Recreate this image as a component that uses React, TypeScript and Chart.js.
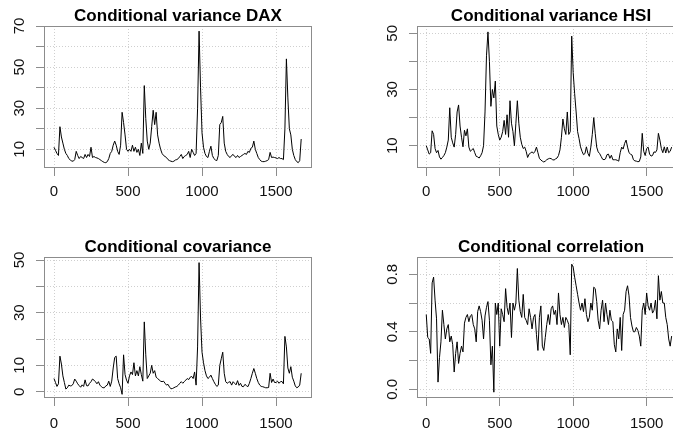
import React, { useEffect, useRef } from 'react';
import { Chart, registerables } from 'chart.js';

Chart.register(...registerables);

// time index step between stored observations
const STEP = 10;

const DAX_VAR = [
  11, 9.5, 8, 7, 21, 16, 13, 10, 8, 7,
  5.5, 4.8, 4.3, 4.2, 5, 9, 7, 5.5, 6.5, 6,
  5.5, 7.5, 6, 7.5, 6.5, 11, 6, 6.5, 6, 5.8,
  5.5, 5, 4.5, 4, 3.6, 3.5, 4, 5.5, 8, 9,
  12, 14, 12, 9, 7.5, 12, 28, 23, 17, 10,
  9, 10, 9, 12, 9, 11, 8.5, 10, 7, 13,
  8, 41, 25, 14, 10, 13, 21, 29, 22, 28,
  17, 13, 10, 8, 7, 6.5, 6, 5, 4.5, 4.2,
  4, 4.2, 4.8, 5, 5.5, 6.5, 7.5, 5.5, 6.5, 7,
  7.5, 9, 6, 10, 8.5, 7, 8, 30, 67.5, 40,
  18, 11, 8, 6.5, 6, 9, 11.5, 7, 5.5, 4.8,
  4.5, 7, 22, 23, 26, 13, 9, 7.5, 6.5, 6,
  7, 7.5, 6.5, 6, 7, 6, 6.5, 7, 7.5, 8,
  7.5, 9, 8.5, 10.5, 11, 14, 10, 8, 6, 5,
  4.2, 4, 4, 4.2, 4.5, 5, 8.5, 6, 6.2, 6,
  5.8, 5.5, 6, 5.5, 5.5, 5, 20, 54, 35, 20,
  17, 10, 7, 5, 4, 3.5, 4.5, 15,
];

const HSI_VAR = [
  10, 8.5, 7, 7.5, 15.3, 14, 9, 7.5, 8.3, 6,
  5.2, 5.8, 6.5, 7.5, 9.5, 12, 23.5, 13, 11, 9.5,
  14, 22, 24.5, 17, 13, 9.6, 15.5, 13.5, 16, 9.5,
  8, 8.5, 9, 7.5, 6.2, 6, 5.6, 6.4, 7.5, 10,
  22, 42, 50.5, 40, 24, 30, 27, 33, 17, 14,
  12, 13, 15, 19, 14, 21, 13, 26, 18, 15,
  10, 18, 26, 18, 13, 10.5, 9, 9.5, 8, 5.8,
  7, 7.4, 7.8, 7.3, 8, 9.5, 7.5, 5.5, 4.9, 4.5,
  4.2, 4.5, 5, 5.3, 5.5, 5.4, 5, 4.9, 5.3, 5.6,
  6.5, 8.5, 13, 19.5, 16, 14, 22, 14, 15, 49,
  36, 28.5, 22, 15, 12.5, 9.6, 8, 6.8, 7.2, 9.6,
  7.3, 6.2, 9.5, 14, 20, 14.4, 9.5, 7.8, 7.2, 6.2,
  5.2, 5, 5.3, 6.8, 7, 5.5, 6.6, 5, 5, 5,
  4.8, 4.5, 7.5, 9.5, 8.8, 10.8, 12, 9.5, 7.5, 7,
  6.7, 5, 4.6, 4.5, 4.3, 4.4, 6, 14.4, 8, 6.5,
  9, 9.5, 7, 6.3, 6.5, 7.8, 7.6, 8.5, 14.4, 12,
  9, 7.5, 9.6, 7.4, 9.5, 7.5, 8, 9.5,
];

const COVAR = [
  5, 3.5, 2, 3, 13.5, 10.5, 6, 3.5, 1, 1.5,
  2.5, 2.2, 2.3, 3, 4.8, 4, 3, 2.3, 1.7, 2.6,
  2, 4.5, 2.3, 2.2, 3.2, 3.8, 4.8, 4.4, 3.8, 3,
  3.8, 2.5, 1.9, 1.5, 1.5, 2.2, 2.5, 4, 2, 4,
  9, 13, 13.5, 5, 3, 1.5, -1, 14, 6.5, 4.4,
  3.2, 6, 7.5, 6.5, 11, 6, 8, 6, 9.5, 6.5,
  4, 26.5, 14, 5, 6, 7, 10, 7, 8, 5.5,
  5, 4.5, 4, 3.8, 4, 3.2, 2.5, 2.8, 1.8, 1.1,
  1.2, 1.5, 1.8, 2, 2.5, 3.2, 3.8, 3.2, 3.8, 4.4,
  5, 4.6, 5.5, 5.8, 5, 7.5, 2.5, 17, 49, 28,
  15, 11, 8, 6, 5, 5.5, 6.3, 5, 3.8, 2.8,
  2, 2.5, 10, 12.5, 15, 7, 3.8, 3.2, 3.6, 3.8,
  2.5, 3.8, 3.2, 2.6, 4.2, 2.4, 3.2, 2, 1.9, 2.8,
  2.3, 1.9, 3.2, 5, 7, 8.8, 7, 5, 3.5, 2.5,
  2, 1.9, 1.7, 1.5, 1.5, 1.6, 7, 3.5, 4.8, 3.5,
  3.5, 4, 3.2, 3.8, 3.9, 3, 21, 17, 9, 7,
  9.5, 5.5, 4, 2.2, 1.5, 1.8, 2.5, 7,
];

const CORR = [
  0.52, 0.36, 0.35, 0.25, 0.74, 0.78, 0.62, 0.49, 0.05, 0.22,
  0.33, 0.55, 0.45, 0.35, 0.42, 0.45, 0.33, 0.37, 0.31, 0.12,
  0.25, 0.33, 0.18, 0.25, 0.3, 0.26, 0.46, 0.5, 0.52, 0.47,
  0.51, 0.52, 0.45, 0.42, 0.33, 0.54, 0.58, 0.54, 0.48, 0.35,
  0.51, 0.57, 0.61, 0.48, 0.17, 0.3, -0.02, 0.6, 0.52, 0.6,
  0.3, 0.56, 0.52, 0.47, 0.7, 0.57, 0.52, 0.6, 0.36, 0.6,
  0.55, 0.6, 0.84, 0.62, 0.54, 0.5, 0.66, 0.5, 0.48, 0.45,
  0.56, 0.5, 0.42, 0.5, 0.52, 0.38, 0.27, 0.5, 0.58, 0.3,
  0.27, 0.36, 0.45, 0.52, 0.45, 0.56, 0.58, 0.52, 0.55, 0.45,
  0.67, 0.52, 0.45, 0.5, 0.43, 0.5, 0.48, 0.45, 0.24, 0.87,
  0.85, 0.78, 0.72, 0.66, 0.6, 0.55, 0.6, 0.54, 0.63, 0.52,
  0.47, 0.5, 0.6, 0.55, 0.71, 0.7, 0.61, 0.48, 0.42, 0.55,
  0.62, 0.47, 0.6, 0.52, 0.45, 0.55, 0.48, 0.47, 0.31, 0.26,
  0.42, 0.35, 0.5, 0.27, 0.52, 0.55, 0.68, 0.72, 0.65, 0.5,
  0.44, 0.4, 0.4, 0.43, 0.41, 0.37, 0.3, 0.55, 0.6, 0.52,
  0.67, 0.58, 0.55, 0.6, 0.53, 0.55, 0.62, 0.49, 0.79, 0.62,
  0.68, 0.6, 0.6, 0.5, 0.45, 0.35, 0.3, 0.37,
];

const X_TICKS = [0, 500, 1000, 1500];
const DAX_Y_TICKS = [10, 20, 30, 40, 50, 60, 70];
const DAX_Y_LABELS = [10, 30, 50, 70];
const HSI_Y_TICKS = [10, 20, 30, 40, 50];
const HSI_Y_LABELS = [10, 30, 50];
const COV_Y_TICKS = [0, 10, 20, 30, 40, 50];
const COV_Y_LABELS = [0, 10, 30, 50];
const COR_Y_TICKS = [0, 0.2, 0.4, 0.6, 0.8];
const COR_Y_LABELS = [0, 0.4, 0.8];

const FONT = "'Liberation Sans', Arial, Helvetica, sans-serif";
const AXIS_COLOR = '#8c8c8c';
const GRID_COLOR = '#cfcfcf';
const TEXT_COLOR = '#111111';
const CANVAS_W = 320;

type PanelCfg = {
  title: string;
  values: number[];
  yTicks: number[];
  yLabels: number[];
  yMin: number;
  yMax: number;
  xMin: number;
  xMax: number;
  left: number;
  top: number;
  height: number;
  digits: number;
  yPad: number;
  xPad: number;
};

const PANELS: PanelCfg[] = [
  { title: 'Conditional variance DAX', values: DAX_VAR, yTicks: DAX_Y_TICKS, yLabels: DAX_Y_LABELS,
    yMin: 0.9, yMax: 70, xMin: -67.6, xMax: 1743, left: 0, top: 0, height: 215, digits: 0, yPad: 8, xPad: 7 },
  { title: 'Conditional variance HSI', values: HSI_VAR, yTicks: HSI_Y_TICKS, yLabels: HSI_Y_LABELS,
    yMin: 2.06, yMax: 52.6, xMin: -63, xMax: 1761, left: 373, top: 0, height: 215, digits: 0, yPad: 8, xPad: 7 },
  { title: 'Conditional covariance', values: COVAR, yTicks: COV_Y_TICKS, yLabels: COV_Y_LABELS,
    yMin: -2.39, yMax: 51.14, xMin: -67.6, xMax: 1743, left: 0, top: 231, height: 214, digits: 0, yPad: 8, xPad: 9 },
  { title: 'Conditional correlation', values: CORR, yTicks: COR_Y_TICKS, yLabels: COR_Y_LABELS,
    yMin: -0.0605, yMax: 0.92, xMin: -63, xMax: 1761, left: 373, top: 231, height: 214, digits: 1, yPad: 6, xPad: 9 },
];

const boxPlugin = {
  id: 'rbox',
  afterDraw(chart: any) {
    const { ctx, chartArea: a } = chart;
    ctx.save();
    ctx.strokeStyle = AXIS_COLOR;
    ctx.lineWidth = 1;
    ctx.setLineDash([]);
    ctx.strokeRect(Math.round(a.left) + 0.5, Math.round(a.top) + 0.5,
      Math.round(a.right - a.left) - 1, Math.round(a.bottom - a.top) - 1);
    ctx.restore();
  },
};

function Panel({ cfg }: { cfg: PanelCfg }) {
  const ref = useRef<HTMLCanvasElement>(null);
  useEffect(() => {
    const points = cfg.values.map((v, i) => ({ x: i * STEP, y: v }));
    const gridCommon = {
      color: GRID_COLOR,
      lineWidth: 1,
      tickColor: AXIS_COLOR,
      tickLength: 8,
      tickWidth: 1,
    };
    const chart = new Chart(ref.current as HTMLCanvasElement, {
      type: 'line',
      data: {
        datasets: [{
          data: points,
          borderColor: '#000000',
          borderWidth: 1,
          pointRadius: 0,
          tension: 0,
          fill: false,
        }],
      },
      options: {
        animation: false,
        responsive: false,
        devicePixelRatio: 1,
        events: [],
        layout: { padding: { left: 0, right: 8, top: 0, bottom: 0 } },
        plugins: {
          legend: { display: false },
          tooltip: { enabled: false },
          title: {
            display: true,
            text: cfg.title,
            fullSize: false,
            color: '#000000',
            font: { family: FONT, size: 17, weight: 'bold', lineHeight: 1 },
            padding: { top: 8, bottom: 1 },
          },
        },
        scales: {
          x: {
            type: 'linear',
            min: cfg.xMin,
            max: cfg.xMax,
            afterBuildTicks: (s: any) => { s.ticks = X_TICKS.map((v) => ({ value: v })); },
            afterFit: (s: any) => { s.height = 47; },
            ticks: {
              autoSkip: false,
              minRotation: 0,
              maxRotation: 0,
              padding: cfg.xPad,
              color: TEXT_COLOR,
              font: { family: FONT, size: 15 },
              callback: (v: any) => String(v),
            },
            grid: gridCommon,
            border: { display: false, dash: [1, 2] },
          },
          y: {
            type: 'linear',
            min: cfg.yMin,
            max: cfg.yMax,
            afterBuildTicks: (s: any) => { s.ticks = cfg.yTicks.map((v) => ({ value: v })); },
            afterFit: (s: any) => { s.width = 44; },
            ticks: {
              autoSkip: false,
              minRotation: 90,
              maxRotation: 90,
              crossAlign: 'center',
              padding: cfg.yPad,
              color: TEXT_COLOR,
              font: { family: FONT, size: 15 },
              callback: (v: any) => (cfg.yLabels.includes(v) ? Number(v).toFixed(cfg.digits) : ''),
            },
            grid: gridCommon,
            border: { display: false, dash: [1, 2] },
          },
        },
      } as any,
      plugins: [boxPlugin],
    });
    return () => chart.destroy();
  }, [cfg]);
  return (
    <canvas
      ref={ref}
      width={CANVAS_W}
      height={cfg.height}
      style={{ position: 'absolute', left: cfg.left, top: cfg.top, width: CANVAS_W, height: cfg.height }}
    />
  );
}

export default function App() {
  return (
    <div style={{ position: 'fixed', left: 0, top: 0, width: 673, height: 431, overflow: 'hidden', background: '#ffffff' }}>
      {PANELS.map((p) => <Panel key={p.title} cfg={p} />)}
    </div>
  );
}
